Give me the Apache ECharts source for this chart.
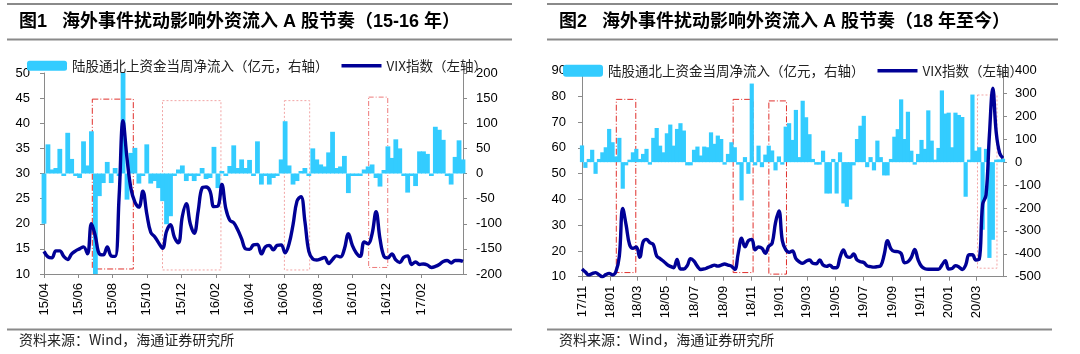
<!DOCTYPE html>
<html>
<head>
<meta charset="utf-8">
<script src="https://cdn.jsdelivr.net/npm/echarts@6.0.0/dist/echarts.min.js"></script>
<style>
  html, body { margin: 0; padding: 0; background: #fff; }
  #chart { width: 1080px; height: 354px; }
</style>
</head>
<body>
<div id="chart"></div>
<script>
// ---- panel 1: 2015-2017, weekly ----
const week1Start = '2015-03-31'
const flow1 = [
  -100, 58, 8, 11, 49, -5, 81, 29, -2, -9,
  64, 16, 84, -205, -45, -19, 23, -19, 11, -4,
  205, -52, 41, 51, -20, -2, 58, -20, -15, -29,
  -55, -101, -85, -5, 8, 16, -15, -2, -15, -2,
  11, -11, -9, 53, -29, 0, -2, 15, 56, 11,
  28, 11, 27, -2, 64, -22, -5, -22, -9, -2,
  28, 104, 16, -22, -15, 0, 11, -4, 50, 28,
  18, 14, 42, 83, 11, 14, 35, -39, -3, -3,
  -3, 8, 14, 18, -9, -26, 7, 54, 31, 68,
  50, -4, -38, -5, -25, 44, 44, 39, -4, 93,
  87, 67, -2, -22, 33, 66, 28
]
const vix1 = [
  14.5, 13.4, 13.2, 14.6, 14.6, 13.5, 12.9, 14.0, 14.6, 15.0,
  15.4, 14.0, 20.0, 17.5, 14.0, 13.8, 15.4, 13.6, 13.5, 25.4,
  40.5, 33.0, 27.0, 24.3, 23.3, 26.5, 22.0, 18.3, 17.4, 16.2,
  15.1, 18.5, 19.8, 17.3, 16.2, 21.5, 24.0, 20.0, 18.1, 22.5,
  27.1, 27.3, 26.5, 23.4, 23.5, 27.8, 23.0, 20.7, 20.2, 18.8,
  17.0, 15.0, 14.9, 15.8, 15.9, 14.0, 15.4, 15.7, 14.8, 15.7,
  15.8, 14.2, 16.0, 19.8, 24.5, 25.4, 20.5, 14.5, 13.0, 12.8,
  13.0, 13.3, 12.1, 12.9, 13.6, 13.4, 15.0, 18.0, 15.7, 14.2,
  13.5, 16.4, 16.0, 18.0, 22.4, 17.0, 13.5, 13.2, 14.0, 12.8,
  12.3, 13.3, 13.6, 11.9, 12.4, 11.9, 12.0, 11.8, 11.3, 11.5,
  11.9, 12.5, 12.7, 12.2, 12.7, 12.7, 12.5
]
const ticks1 = ['2015-04', '2015-06', '2015-08', '2015-10', '2015-12', '2016-02',
  '2016-04', '2016-06', '2016-08', '2016-10', '2016-12', '2017-02']
const range1 = ['2015-04-01', '2017-04-16']
// [from, to, low, high, kind]
const boxes1 = [
  ['2015-06-26', '2015-09-07', 11.0, 44.8, 'strong'],
  ['2015-10-29', '2016-02-10', 10.8, 44.5, 'light'],
  ['2016-06-02', '2016-07-17', 10.8, 44.5, 'light'],
  ['2016-10-30', '2016-12-03', 11.3, 45.2, 'mid']
]

// ---- panel 2: 2017-11 to 2020-03, weekly ----
const week2Start = '2017-11-03'
const flow2 = [
  73, -25, 14, 54, -51, 14, 43, 65, 145, 87,
  25, 106, -116, -14, 5, 43, 58, 14, 36, 58,
  -7, 106, 149, 72, 43, 126, 164, 72, 145, 170,
  138, -14, -14, 54, 68, 29, 68, 65, 130, 80,
  116, 101, -7, 36, 87, 65, -7, -167, 22, -51,
  343, -14, 72, -22, 33, 72, 51, -36, 25, -7,
  155, 170, 97, 228, 22, 268, 196, 122, 14, -7,
  -5, 50, -137, -137, 14, -137, 43, -180, -195, -163,
  -14, 101, 159, 202, -22, 22, -36, 94, 22, -58,
  -58, 14, 111, 144, 274, 101, 220, 50, -7, 36,
  97, 58, 226, 94, 10, 62, 313, 212, 216, 65,
  216, 206, 197, -151, 0, 295, 50, 65, -295, 58,
  -418, -339, 7, 12, 15
]
const vix2 = [
  13.0, 11.8, 10.7, 11.2, 11.6, 10.8, 10.0, 10.8, 11.3, 10.7,
  12.0, 18.0, 36.5, 30.0, 22.5, 21.0, 21.5, 17.5, 23.5, 24.5,
  23.2, 22.5, 18.0, 17.0, 16.0, 14.8, 14.0, 13.5, 16.7, 13.0,
  13.0, 14.3, 17.0, 16.0, 14.0, 12.8, 13.0, 13.5, 14.0, 14.5,
  14.1, 14.5, 14.9, 14.5, 14.1, 12.8, 19.0, 24.9, 21.6, 24.0,
  24.5, 20.4, 21.5, 21.0, 19.1, 21.8, 23.0, 31.0, 35.5, 24.0,
  20.5, 19.5, 20.0, 17.0, 15.8, 15.2, 16.0, 16.5, 15.2, 15.0,
  16.5, 14.5, 14.0, 14.5, 13.5, 13.5, 17.5, 20.4, 17.8, 17.5,
  18.8, 16.5, 15.8, 15.5, 14.2, 13.9, 13.7, 13.9, 14.3, 18.5,
  24.0, 20.8, 19.8, 19.7, 19.0, 15.4, 15.8, 17.5, 20.6, 16.5,
  14.0, 13.1, 12.9, 12.9, 12.9, 12.9, 14.5, 16.2, 13.0, 13.2,
  14.3, 13.8, 12.8, 14.5, 18.5, 18.5, 16.5, 16.8, 38.0, 41.7,
  65.0, 83.1, 66.0, 58.0, 56.0
]
const ticks2 = ['2017-11', '2018-01', '2018-03', '2018-05', '2018-07', '2018-09',
  '2018-11', '2019-01', '2019-03', '2019-05', '2019-07', '2019-09', '2019-11',
  '2020-01', '2020-03']
const range2 = ['2017-11-01', '2020-04-27']
const boxes2 = [
  ['2018-01-14', '2018-02-25', 11.6, 78.8, 'strong'],
  ['2018-09-23', '2018-11-05', 11.6, 78.8, 'strong'],
  ['2018-12-09', '2019-01-16', 11.0, 78.2, 'strong'],
  ['2020-03-03', '2020-04-14', 13.3, 80.5, 'light']
]

const flowName = '陆股通北上资金当周净流入（亿元，右轴）'
const vixName = 'VIX指数（左轴）'

// ---- helpers ----
const latin = "'Liberation Sans', 'Noto Sans CJK SC', sans-serif"
const cjk = "'Noto Sans CJK SC', 'Liberation Sans', sans-serif"
const axisGray = '#8a8a8a'
const barColor = '#33ccff'
const lineColor = '#000096'

const ts = s => new Date(s + (s.length === 7 ? '-01' : '') + 'T00:00:00').getTime()
const pad = n => (n < 10 ? '0' : '') + n

function weeks(start, n) {
  const out = []
  const d = new Date(start + 'T00:00:00')
  for (let i = 0; i < n; i++) {
    out.push(d.getFullYear() + '-' + pad(d.getMonth() + 1) + '-' + pad(d.getDate()))
    d.setDate(d.getDate() + 7)
  }
  return out
}

const boxStyle = {
  strong: { borderColor: '#e0302c', borderType: [6, 2, 1, 2] },
  mid: { borderColor: '#ee7a7a', borderType: [5, 2, 1, 2] },
  light: { borderColor: '#f2a5a5', borderType: [2, 2] }
}

function boxData(list) {
  return list.map(b => [
    { coord: [ts(b[0]), b[3]], itemStyle: Object.assign({ color: 'rgba(0,0,0,0)', borderWidth: 1 }, boxStyle[b[4]]) },
    { coord: [ts(b[1]), b[2]] }
  ])
}

function valAxis(grid, min, max, step, side, margin) {
  return {
    type: 'value', gridIndex: grid, position: side, min, max, interval: step,
    axisLine: { show: true, lineStyle: { color: axisGray, width: 1 } },
    axisTick: { show: true, length: 4, lineStyle: { color: axisGray } },
    axisLabel: { color: '#000', fontSize: 13, fontFamily: latin, margin },
    splitLine: { show: false }
  }
}

function dataAxis(grid, cats) {
  return { type: 'category', gridIndex: grid, data: cats, boundaryGap: false, show: false }
}

// month labels sit on a plain value axis of timestamps
function labelAxis(grid, range, ticks) {
  const vals = ticks.map(ts)
  return {
    type: 'value', gridIndex: grid, position: 'bottom',
    min: ts(range[0]), max: ts(range[1]),
    axisLine: { show: true, onZero: false, lineStyle: { color: axisGray, width: 1 } },
    axisTick: { show: true, length: 4, customValues: vals, lineStyle: { color: axisGray } },
    axisLabel: {
      customValues: vals, rotate: 90, margin: 9, color: '#000', fontSize: 13, fontFamily: latin,
      formatter: v => {
        const d = new Date(v)
        return String(d.getFullYear()).slice(2) + '/' + pad(d.getMonth() + 1)
      }
    },
    splitLine: { show: false }
  }
}

function legend(left, top, h) {
  return {
    left, top, itemWidth: 40, itemHeight: h, itemGap: 13,
    data: [
      { name: flowName, icon: 'roundRect' },
      { name: vixName, icon: 'path://M0,0 L40,0 L40,3.5 L0,3.5 Z' }
    ],
    textStyle: { color: '#222', fontSize: 13.5, fontFamily: cjk }
  }
}

const cats1 = weeks(week1Start, flow1.length)
const cats2 = weeks(week2Start, flow2.length)

const chart = echarts.init(document.getElementById('chart'), null, { renderer: 'canvas' })

chart.setOption({
  animation: false,
  backgroundColor: '#fff',
  title: [
    {
      text: '图1   海外事件扰动影响外资流入 A 股节奏（15-16 年）', left: 19, top: 13, padding: 0,
      textStyle: { fontSize: 18, fontWeight: 'bold', color: '#000', fontFamily: latin }
    },
    {
      text: '图2   海外事件扰动影响外资流入 A 股节奏（18 年至今）', left: 559, top: 13, padding: 0,
      textStyle: { fontSize: 18, fontWeight: 'bold', color: '#000', fontFamily: latin }
    }
  ],
  legend: [legend(22, 54, 10), legend(558, 59, 12)],
  grid: [
    { left: 44, right: 617, top: 73, bottom: 80 },
    { left: 582, right: 77, top: 70.5, bottom: 77.3 }
  ],
  xAxis: [
    dataAxis(0, cats1), labelAxis(0, range1, ticks1),
    dataAxis(1, cats2), labelAxis(1, range2, ticks2)
  ],
  yAxis: [
    valAxis(0, 10, 50, 5, 'left', 14), valAxis(0, -200, 200, 50, 'right', 13),
    valAxis(1, 10, 90, 10, 'left', 16), valAxis(1, -500, 400, 100, 'right', 12)
  ],
  series: [
    {
      name: flowName, type: 'bar', xAxisIndex: 0, yAxisIndex: 1, data: flow1,
      barWidth: 4.8, barMinHeight: 2.5, clip: true, itemStyle: { color: barColor }
    },
    {
      name: vixName, type: 'line', xAxisIndex: 0, yAxisIndex: 0, data: vix1,
      smooth: 0.4, symbol: 'none', lineStyle: { color: lineColor, width: 3.4 }, itemStyle: { color: lineColor }
    },
    {
      type: 'line', xAxisIndex: 1, yAxisIndex: 0, data: [], silent: true,
      markArea: { silent: true, label: { show: false }, data: boxData(boxes1) }
    },
    {
      name: flowName, type: 'bar', xAxisIndex: 2, yAxisIndex: 3, data: flow2,
      barWidth: 4.2, barMinHeight: 2.5, clip: true, itemStyle: { color: barColor }
    },
    {
      name: vixName, type: 'line', xAxisIndex: 2, yAxisIndex: 2, data: vix2,
      smooth: 0.4, symbol: 'none', lineStyle: { color: lineColor, width: 3.4 }, itemStyle: { color: lineColor }
    },
    {
      type: 'line', xAxisIndex: 3, yAxisIndex: 2, data: [], silent: true,
      markArea: { silent: true, label: { show: false }, data: boxData(boxes2) }
    }
  ],
  graphic: [
    { type: 'line', shape: { x1: 7, y1: 4, x2: 512, y2: 4 }, style: { stroke: axisGray, lineWidth: 2 } },
    { type: 'line', shape: { x1: 7, y1: 39.5, x2: 512, y2: 39.5 }, style: { stroke: axisGray, lineWidth: 2 } },
    { type: 'line', shape: { x1: 7, y1: 329.5, x2: 512, y2: 329.5 }, style: { stroke: axisGray, lineWidth: 2 } },
    { type: 'line', shape: { x1: 547, y1: 4, x2: 1058, y2: 4 }, style: { stroke: axisGray, lineWidth: 2 } },
    { type: 'line', shape: { x1: 547, y1: 39.5, x2: 1058, y2: 39.5 }, style: { stroke: axisGray, lineWidth: 2 } },
    { type: 'line', shape: { x1: 547, y1: 329.5, x2: 1052, y2: 329.5 }, style: { stroke: axisGray, lineWidth: 2 } },
    {
      type: 'text', left: 19, top: 333,
      style: { text: '资料来源：Wind，海通证券研究所', fill: '#222', fontSize: 14, fontFamily: cjk }
    },
    {
      type: 'text', left: 559, top: 333,
      style: { text: '资料来源：Wind，海通证券研究所', fill: '#222', fontSize: 14, fontFamily: cjk }
    }
  ]
})
</script>
</body>
</html>
